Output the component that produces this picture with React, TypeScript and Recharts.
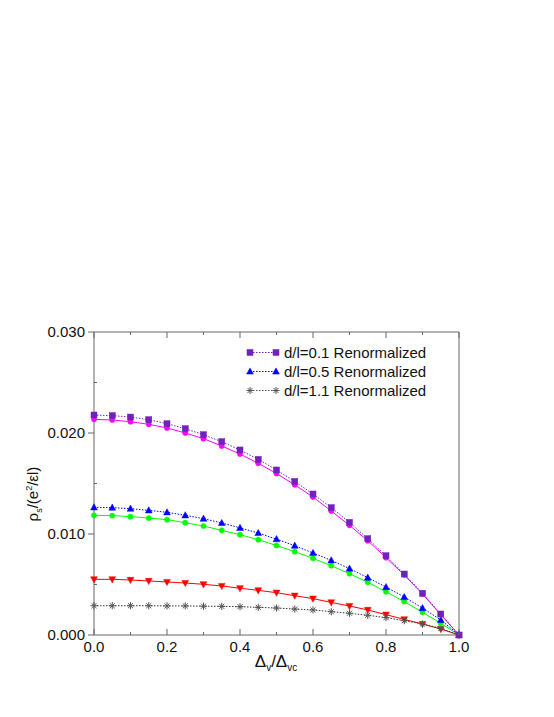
// Superfluid stiffness vs. Delta_v / Delta_vc, xmgrace-style plot
import { LineChart, Line, XAxis, YAxis, Label } from 'recharts';

const xs = [0, 0.05, 0.1, 0.15, 0.2, 0.25, 0.3, 0.35, 0.4, 0.45, 0.5, 0.55, 0.6, 0.65, 0.7, 0.75, 0.8, 0.85, 0.9, 0.95, 1.0];

// d/l = 0.1 (renormalized, purple squares) and plain (magenta circles)
const renorm01 = [0.02178, 0.02172, 0.02158, 0.02132, 0.02092, 0.02043, 0.01983, 0.01914, 0.01832, 0.01739, 0.01634, 0.0152, 0.01396, 0.01261, 0.01115, 0.00954, 0.00785, 0.00604, 0.00413, 0.00208, 0.0];
const bare01 = [0.02135, 0.02129, 0.02112, 0.02086, 0.0205, 0.02, 0.01944, 0.01871, 0.01792, 0.017, 0.01599, 0.01487, 0.01366, 0.01228, 0.01086, 0.00934, 0.00766, 0.00594, 0.00406, 0.00201, 0.0];
// d/l = 0.5
const renorm05 = [0.01264, 0.01261, 0.01251, 0.01234, 0.01215, 0.01185, 0.01152, 0.01109, 0.01061, 0.0101, 0.00949, 0.00884, 0.00812, 0.00739, 0.00657, 0.00568, 0.00475, 0.00376, 0.00267, 0.00149, 0.0];
const bare05 = [0.01185, 0.01182, 0.01172, 0.01158, 0.01142, 0.01112, 0.01079, 0.01036, 0.00993, 0.00944, 0.00886, 0.00825, 0.00759, 0.00686, 0.00607, 0.00522, 0.00429, 0.0033, 0.00225, 0.00116, 0.0];
// d/l = 1.1
const renorm11 = [0.0029, 0.0029, 0.0029, 0.0029, 0.00288, 0.00288, 0.00285, 0.00284, 0.0028, 0.00274, 0.00267, 0.00257, 0.00248, 0.00231, 0.00215, 0.00195, 0.00172, 0.00142, 0.00109, 0.00066, 0.0];
const bare11 = [0.00551, 0.00551, 0.00545, 0.00535, 0.00525, 0.00515, 0.00502, 0.00485, 0.00463, 0.00442, 0.00419, 0.00389, 0.0036, 0.00323, 0.00287, 0.00248, 0.00201, 0.00155, 0.00109, 0.00059, 0.0];

const xTicks = [0, 0.1, 0.2, 0.3, 0.4, 0.5, 0.6, 0.7, 0.8, 0.9, 1.0];
const yTicks = [0, 0.005, 0.01, 0.015, 0.02, 0.025, 0.03];
const legendLabels = ['d/l=0.1 Renormalized', 'd/l=0.5 Renormalized', 'd/l=1.1 Renormalized'];

const data = xs.map((x, i) => ({
  x,
  r01: renorm01[i],
  b01: bare01[i],
  r05: renorm05[i],
  b05: bare05[i],
  r11: renorm11[i],
  b11: bare11[i],
}));

const FONT = '"Liberation Sans", Arial, Helvetica, sans-serif';
const AXIS = '#666';
const DOTTED = '1.5 1.5';

const C_PURPLE = '#7221bc';
const C_MAGENTA = '#ff00ff';
const C_BLUE = '#0000ff';
const C_GREEN = '#00ff00';
const C_RED = '#ff0000';
const C_BLACK = '#333';

// ---- marker shapes ----
function markerSquare(cx: number, cy: number, color: string, key?: any) {
  return <rect key={key} x={cx - 3} y={cy - 3} width={6} height={6} fill={color} stroke={color} strokeWidth={0.5} />;
}
function markerCircle(cx: number, cy: number, color: string, key?: any) {
  return <circle key={key} cx={cx} cy={cy} r={2.6} fill={color} stroke={color} strokeWidth={0.5} />;
}
function markerTriUp(cx: number, cy: number, color: string, key?: any) {
  return <polygon key={key} points={`${cx},${cy - 3.6} ${cx + 3.4},${cy + 2.6} ${cx - 3.4},${cy + 2.6}`} fill={color} stroke={color} strokeWidth={0.5} />;
}
function markerTriDown(cx: number, cy: number, color: string, key?: any) {
  return <polygon key={key} points={`${cx},${cy + 3.6} ${cx + 3.4},${cy - 2.6} ${cx - 3.4},${cy - 2.6}`} fill={color} stroke={color} strokeWidth={0.5} />;
}
function markerStar(cx: number, cy: number, color: string, key?: any) {
  const r = 3.6;
  const d = r * 0.7;
  return (
    <g key={key} stroke={color} strokeWidth={1}>
      <line x1={cx - r} y1={cy} x2={cx + r} y2={cy} />
      <line x1={cx} y1={cy - r} x2={cx} y2={cy + r} />
      <line x1={cx - d} y1={cy - d} x2={cx + d} y2={cy + d} />
      <line x1={cx - d} y1={cy + d} x2={cx + d} y2={cy - d} />
    </g>
  );
}

const dotFn = (shape: typeof markerSquare, color: string) => (p: any) =>
  shape(p.cx, p.cy, color, `d-${p.index}`);

// ---- custom ticks (tickSize 0 so x/y sit on the axis line) ----
const BottomTick = (p: any) => {
  const v = p.payload.value;
  const major = Math.round(v * 10) % 2 === 0;
  return (
    <g>
      <line x1={p.x} x2={p.x} y1={p.y} y2={p.y - (major ? 6 : 3)} stroke={AXIS} />
      {major && (
        <text x={p.x} y={p.y + 17} textAnchor="middle" fontFamily={FONT} fontSize={15} fill="#111">
          {v.toFixed(1)}
        </text>
      )}
    </g>
  );
};
const TopTick = (p: any) => {
  const v = p.payload.value;
  const major = Math.round(v * 10) % 2 === 0;
  return <line x1={p.x} x2={p.x} y1={p.y} y2={p.y + (major ? 6 : 3)} stroke={AXIS} />;
};
const LeftTick = (p: any) => {
  const v = p.payload.value;
  const major = Math.round(v * 1000) % 10 === 0;
  return (
    <g>
      {major ? (
        <line x1={p.x - 6} x2={p.x} y1={p.y} y2={p.y} stroke={AXIS} />
      ) : (
        <line x1={p.x} x2={p.x + 3} y1={p.y} y2={p.y} stroke={AXIS} />
      )}
      {major && (
        <text x={p.x - 9} y={p.y + 5} textAnchor="end" fontFamily={FONT} fontSize={15} fill="#111">
          {v.toFixed(3)}
        </text>
      )}
    </g>
  );
};
const RightTick = (p: any) => {
  const v = p.payload.value;
  const major = Math.round(v * 1000) % 10 === 0;
  return <line x1={p.x} x2={p.x - (major ? 6 : 3)} y1={p.y} y2={p.y} stroke={AXIS} />;
};

const legendMarkers = [
  { shape: markerSquare, color: C_PURPLE },
  { shape: markerTriUp, color: C_BLUE },
  { shape: markerStar, color: '#555' },
];

// legend drawn as an overlay box in the upper right of the plot
const LegendBox = () => (
  <div style={{ position: 'absolute', left: 244, top: 343, fontFamily: FONT, fontSize: 15, color: '#111' }}>
    {legendLabels.map((t, i) => (
      <div key={t} style={{ display: 'flex', alignItems: 'center', height: 19 }}>
        <svg width={36} height={19} style={{ display: 'block' }}>
          <line x1={6} x2={32} y1={9.5} y2={9.5} stroke={legendMarkers[i].color} strokeDasharray={DOTTED} />
          {legendMarkers[i].shape(6, 9.5, legendMarkers[i].color, 'a')}
          {legendMarkers[i].shape(32, 9.5, legendMarkers[i].color, 'b')}
        </svg>
        <span style={{ marginLeft: 4, whiteSpace: 'nowrap' }}>{t}</span>
      </div>
    ))}
  </div>
);

export default function App() {
  return (
    <div style={{ position: 'absolute', left: 0, top: 0, width: 554, height: 717, background: '#fff' }}>
      <LineChart width={554} height={717} data={data} margin={{ top: 331, right: 94, bottom: 52, left: 4 }}>
        <XAxis
          dataKey="x"
          type="number"
          domain={[0, 1]}
          ticks={xTicks}
          interval={0}
          tickSize={0}
          tickMargin={0}
          tickLine={false}
          tick={BottomTick}
          height={30}
          stroke={AXIS}
        >
          <Label
            content={() => (
              <text x={276} y={667} textAnchor="middle" fontFamily={FONT} fontSize={17} fill="#111">
                Δ<tspan fontSize={10} dy={4}>v</tspan>
                <tspan dy={-4}>/Δ</tspan>
                <tspan fontSize={10} dy={4}>vc</tspan>
              </text>
            )}
          />
        </XAxis>
        <XAxis
          xAxisId="top"
          orientation="top"
          dataKey="x"
          type="number"
          domain={[0, 1]}
          ticks={xTicks}
          interval={0}
          tickSize={0}
          tickMargin={0}
          tickLine={false}
          tick={TopTick}
          height={1}
          stroke={AXIS}
        />
        <YAxis
          type="number"
          domain={[0, 0.03]}
          ticks={yTicks}
          interval={0}
          tickSize={0}
          tickMargin={0}
          tickLine={false}
          tick={LeftTick}
          width={90}
          stroke={AXIS}
        >
          <Label
            content={() => (
              <text x={38} y={494} transform="rotate(-90 38 494)" textAnchor="middle" fontFamily={FONT} fontSize={15} fill="#111">
                ρ<tspan fontSize={9} dy={4}>s</tspan>
                <tspan dy={-4}>/(e</tspan>
                <tspan fontSize={9} dy={-6}>2</tspan>
                <tspan dy={6}>/εl)</tspan>
              </text>
            )}
          />
        </YAxis>
        <YAxis
          yAxisId="right"
          orientation="right"
          type="number"
          domain={[0, 0.03]}
          ticks={yTicks}
          interval={0}
          tickSize={0}
          tickMargin={0}
          tickLine={false}
          tick={RightTick}
          width={1}
          stroke={AXIS}
        />
        <Line dataKey="b11" stroke={C_RED} strokeWidth={1} dot={dotFn(markerTriDown, C_RED)} isAnimationActive={false} />
        <Line dataKey="r11" stroke={C_BLACK} strokeWidth={1} strokeDasharray={DOTTED} dot={dotFn(markerStar, '#555')} isAnimationActive={false} />
        <Line dataKey="b05" stroke={C_GREEN} strokeWidth={1} dot={dotFn(markerCircle, C_GREEN)} isAnimationActive={false} />
        <Line dataKey="r05" stroke={C_BLUE} strokeWidth={1} strokeDasharray={DOTTED} dot={dotFn(markerTriUp, C_BLUE)} isAnimationActive={false} />
        <Line dataKey="b01" stroke={C_MAGENTA} strokeWidth={1} dot={dotFn(markerCircle, C_MAGENTA)} isAnimationActive={false} />
        <Line dataKey="r01" stroke={C_PURPLE} strokeWidth={1} strokeDasharray={DOTTED} dot={dotFn(markerSquare, C_PURPLE)} isAnimationActive={false} />
      </LineChart>
      <LegendBox />
    </div>
  );
}
